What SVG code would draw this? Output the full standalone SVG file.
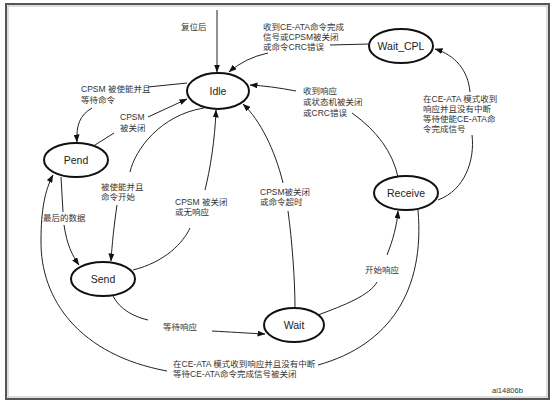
<svg xmlns="http://www.w3.org/2000/svg" width="554" height="402" viewBox="0 0 554 402">
<defs>
<marker id="ah" markerWidth="8" markerHeight="6" refX="7.5" refY="3" orient="auto" markerUnits="userSpaceOnUse">
<path d="M0,0 L8,3 L0,6 Z" fill="#111"/>
</marker>
<style>
.frame{fill:#fff;stroke:#555;stroke-width:2}
.frame2{fill:none;stroke:#bbb;stroke-width:1}
.node ellipse{fill:#fff;stroke:#111;stroke-width:2}
.node text{font-family:"Liberation Sans",Arial,sans-serif;font-size:10.5px;fill:#222;text-anchor:middle}
.edges path{fill:none;stroke:#222;stroke-width:1}
.lbl{font-family:"Liberation Sans","Noto Sans CJK SC",sans-serif;font-size:8.5px;fill:#333}
.id{font-family:"Liberation Sans",Arial,sans-serif;font-size:7.5px;fill:#333}
</style>
</defs>
<rect class="frame" x="6" y="4" width="543" height="395"/>
<rect class="frame2" x="8" y="6" width="539" height="391"/>

<g class="edges">
<path d="M217,10 L217,72" marker-end="url(#ah)"/>
<path d="M369,44 L330,45"/>
<path d="M268,53 Q245,58 229,72" marker-end="url(#ah)"/>
<path d="M398,177 Q390,140 352,113"/>
<path d="M296,91 Q270,86 250,85" marker-end="url(#ah)"/>
<path d="M438,200 C465,190 475,160 472,135"/>
<path d="M470,92 C468,70 455,55 435,49" marker-end="url(#ah)"/>
<path d="M187,83 L148,87"/>
<path d="M92,108 C80,115 76,125 77,142" marker-end="url(#ah)"/>
<path d="M95,145 L114,133"/>
<path d="M148,117 L187,99" marker-end="url(#ah)"/>
<path d="M204,108 C160,115 135,150 130,172"/>
<path d="M117,205 C114,225 112,245 111,261" marker-end="url(#ah)"/>
<path d="M133,270 C165,262 183,243 190,228"/>
<path d="M205,190 C210,170 215,140 216,110" marker-end="url(#ah)"/>
<path d="M295,308 C295,280 292,240 288,211"/>
<path d="M283,183 C275,150 260,120 243,104" marker-end="url(#ah)"/>
<path d="M61,177 L63,212"/>
<path d="M64,225 C67,245 72,255 79,265" marker-end="url(#ah)"/>
<path d="M113,296 C120,310 135,317 148,320"/>
<path d="M212,331 C230,332 245,333 265,334" marker-end="url(#ah)"/>
<path d="M318,315 C345,305 370,295 377,282"/>
<path d="M387,255 C393,240 397,225 398,211" marker-end="url(#ah)"/>
<path d="M418,210 C425,290 390,345 318,365"/>
<path d="M167,371 C80,355 40,300 41,240 C41,210 45,190 53,175" marker-end="url(#ah)"/>
</g>

<g id="idle" class="node"><ellipse cx="218" cy="91" rx="31" ry="18"/><text x="218" y="95">Idle</text></g>
<g id="wait_cpl" class="node"><ellipse cx="401" cy="46" rx="32" ry="17"/><text x="401" y="50">Wait_CPL</text></g>
<g id="pend" class="node"><ellipse cx="76" cy="160" rx="32" ry="17"/><text x="76" y="164">Pend</text></g>
<g id="send" class="node"><ellipse cx="103" cy="279" rx="32" ry="17"/><text x="103" y="283">Send</text></g>
<g id="wait" class="node"><ellipse cx="294" cy="325" rx="30" ry="17"/><text x="294" y="329">Wait</text></g>
<g id="receive" class="node"><ellipse cx="406" cy="193" rx="32" ry="17"/><text x="406" y="197">Receive</text></g>

<g id="labels">
<text class="lbl" x="181" y="30">复位后</text>
<text class="lbl" x="263" y="30">收到CE-ATA命令完成</text>
<text class="lbl" x="263" y="40">信号或CPSM被关闭</text>
<text class="lbl" x="263" y="50">或命令CRC错误</text>
<text class="lbl" x="303" y="94">收到响应</text>
<text class="lbl" x="303" y="105">或状态机被关闭</text>
<text class="lbl" x="303" y="116">或CRC错误</text>
<text class="lbl" x="423" y="102">在CE-ATA 模式收到</text>
<text class="lbl" x="423" y="112">响应并且没有中断</text>
<text class="lbl" x="423" y="122">等待使能CE-ATA命</text>
<text class="lbl" x="423" y="132">令完成信号</text>
<text class="lbl" x="81" y="92">CPSM 被使能并且</text>
<text class="lbl" x="81" y="103">等待命令</text>
<text class="lbl" x="120" y="120">CPSM</text>
<text class="lbl" x="120" y="131">被关闭</text>
<text class="lbl" x="101" y="190">被使能并且</text>
<text class="lbl" x="101" y="200">命令开始</text>
<text class="lbl" x="175" y="205">CPSM 被关闭</text>
<text class="lbl" x="175" y="215">或无响应</text>
<text class="lbl" x="260" y="195">CPSM被关闭</text>
<text class="lbl" x="260" y="205">或命令超时</text>
<text class="lbl" x="43" y="221">最后的数据</text>
<text class="lbl" x="163" y="330">等待响应</text>
<text class="lbl" x="365" y="273">开始响应</text>
<text class="lbl" x="173" y="367">在CE-ATA 模式收到响应并且没有中断</text>
<text class="lbl" x="173" y="377">等待CE-ATA命令完成信号被关闭</text>
<text class="id" x="492" y="393">ai14806b</text>
</g>
</svg>
